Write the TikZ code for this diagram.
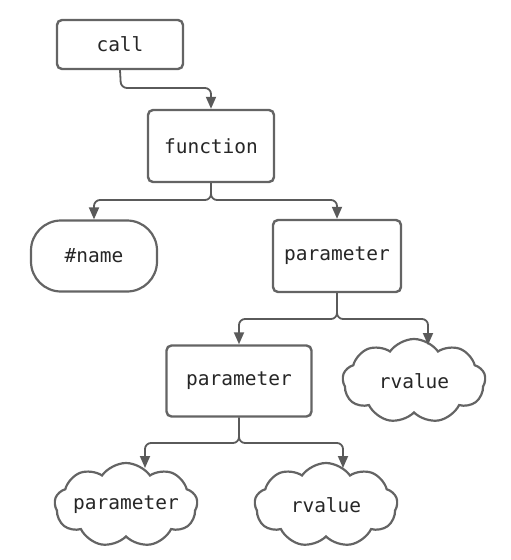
\documentclass[tikz,border=0pt]{standalone}
\usepackage{fontspec}
\setmonofont{DejaVu Sans Mono}
\usepackage{tikz}
\usetikzlibrary{arrows.meta,shapes.symbols}
\definecolor{edgegrey}{RGB}{100,100,100}
\definecolor{linkgrey}{RGB}{90,90,90}

\begin{document}
\begin{tikzpicture}[x=1pt,y=-1pt,
    every node/.style={font=\ttfamily\fontsize{19.5}{23}\selectfont, text=black!85},
    block/.style={draw=edgegrey, line width=2.4pt, rounded corners=5pt, fill=white},
    puff/.style={draw=edgegrey, line width=2.2pt, cloud, cloud puffs=9,
        cloud puff arc=110, cloud ignores aspect, minimum width=143pt,
        minimum height=84pt, inner xsep=-8pt, inner ysep=0pt},
    link/.style={draw=linkgrey, line width=1.8pt, rounded corners=6pt,
        -{Triangle[length=12pt,width=10pt]}}]
  \useasboundingbox (0,0) rectangle (511,560);

  % nodes
  \node[block, minimum width=126pt, minimum height=49pt] (call) at (120,44.5) {call};
  \node[block, minimum width=126pt, minimum height=72pt] (function) at (211,146) {function};
  \node[draw=edgegrey, line width=2.2pt, rounded corners=30pt,
        minimum width=126pt, minimum height=71pt] (name) at (94,256) {\#name};
  \node[block, minimum width=128pt, minimum height=72pt] (param1) at (337,256) {parameter};
  \node[block, minimum width=145pt, minimum height=71pt] (param2) at (239,381) {parameter};
  \node[puff] (rv1) at (414,381) {rvalue};
  \node[puff] (param3) at (126,505) {parameter};
  \node[puff] (rv2) at (326,505) {rvalue};

  % joints
  \coordinate (j0) at (121,88);
  \coordinate (j1) at (211,200);
  \coordinate (j2) at (337,319);
  \coordinate (j3) at (239,443);
  \coordinate (t1) at (428,345);
  \coordinate (t2) at (145,468);
  \coordinate (t3) at (343,468);

  % links
  \draw[link] (call.south) -- (j0) -| (function.north);
  \draw[link] (function.south) -- (j1) -| (name.north);
  \draw[link] (function.south) -- (j1) -| (param1.north);
  \draw[link] (param1.south) -- (j2) -| (param2.north);
  \draw[link] (param1.south) -- (j2) -| (t1);
  \draw[link] (param2.south) -- (j3) -| (t2);
  \draw[link] (param2.south) -- (j3) -| (t3);
\end{tikzpicture}
\end{document}
